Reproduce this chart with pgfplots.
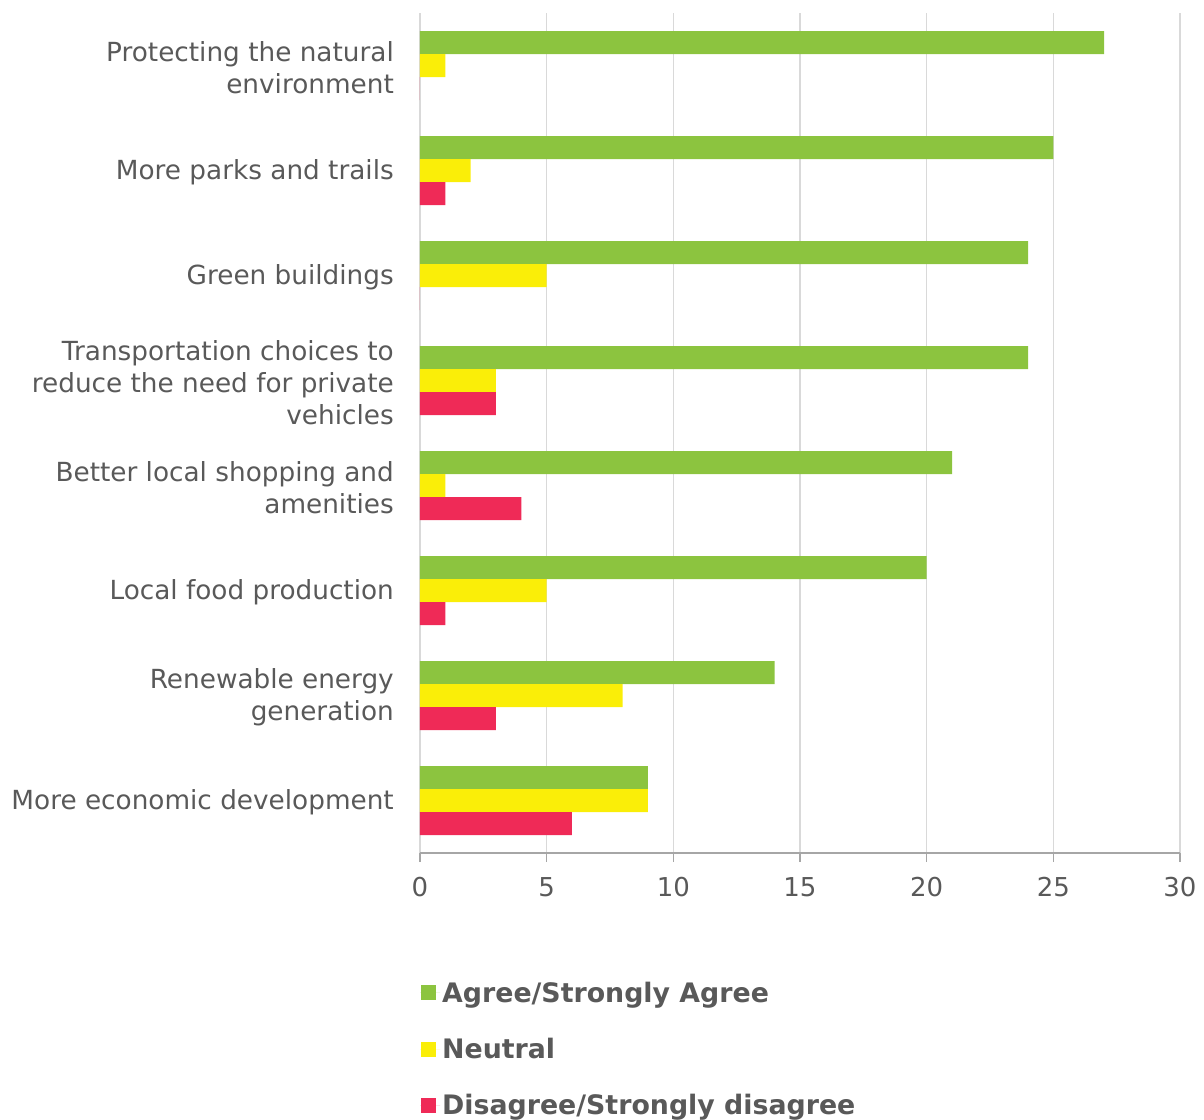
\documentclass[border=0pt]{standalone}
\usepackage{pgfplots}
\pgfplotsset{compat=1.18}
\usepackage{fontspec}
\setmainfont{DejaVu Sans}
\definecolor{cagree}{HTML}{8CC43F}
\definecolor{cneutral}{HTML}{FAEE08}
\definecolor{cdis}{HTML}{EF2A57}
\definecolor{tgray}{HTML}{595959}
\definecolor{ggrid}{HTML}{D9D9D9}
\definecolor{gaxis}{HTML}{A6A6A6}
\pgfplotsset{sqlegend/.style={legend image code/.code={\path (0pt,0pt) -- (20pt,0pt);\fill[##1] (1pt,-7.5pt) rectangle (16pt,7.5pt);}}}
\begin{document}
\begin{tikzpicture}
\useasboundingbox (-420pt,-266pt) rectangle (784pt,853pt);
\begin{axis}[
  scale only axis, width=760pt, height=840pt,
  xbar, bar width=23pt,
  xmin=0, xmax=30, ymin=-0.5, ymax=7.5,
  xtick={0,5,...,30},
  ytick={0,...,7},
  yticklabels={More economic development,{Renewable energy\\generation},Local food production,{Better local shopping and\\amenities},{Transportation choices to\\reduce the need for private\\vehicles},Green buildings,More parks and trails,{Protecting the natural\\environment}},
  axis x line*=bottom, axis y line*=left,
  y axis line style={draw=none},
  x axis line style={gaxis, line width=1.5pt, -},
  tick align=outside,
  major tick length=9pt,
  xtick style={gaxis, line width=1.5pt},
  ytick style={draw=none},
  xmajorgrids, grid style={ggrid, line width=1.5pt},
  /pgf/number format/assume math mode=true,
  xticklabel style={font=\fontsize{26}{32}\selectfont, text=tgray, yshift=-12pt},
  yticklabel style={font=\fontsize{26.3}{32}\selectfont, text=tgray, align=right, inner sep=0pt, xshift=-17pt, yshift=-2pt},
  legend style={at={(0,-0.1506)}, anchor=north west, draw=none, inner sep=0pt,
    font=\bfseries\fontsize{26.8}{32}\selectfont, text=tgray, row sep=30.5pt},
  legend cell align=left,
]
\addplot[fill=cagree, draw=none, bar shift=23pt, sqlegend] coordinates {(9,0) (14,1) (20,2) (21,3) (24,4) (24,5) (25,6) (27,7)};
\addplot[fill=cneutral, draw=none, bar shift=0pt, sqlegend] coordinates {(9,0) (8,1) (5,2) (1,3) (3,4) (5,5) (2,6) (1,7)};
\addplot[fill=cdis, draw=none, bar shift=-23pt, sqlegend] coordinates {(6,0) (3,1) (1,2) (4,3) (3,4) (0,5) (1,6) (0,7)};
\legend{Agree/Strongly Agree, Neutral, Disagree/Strongly disagree}
\end{axis}
\end{tikzpicture}
\end{document}
